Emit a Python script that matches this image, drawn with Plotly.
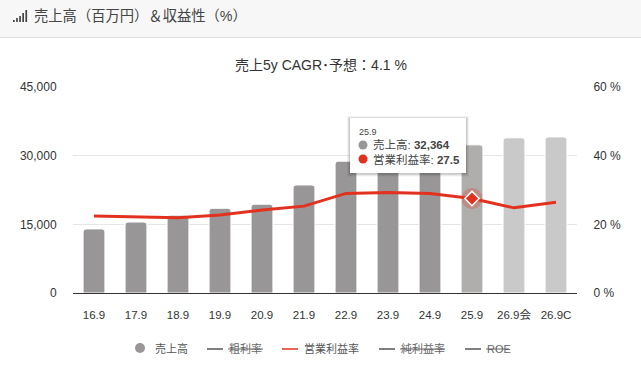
import plotly.graph_objects as go

categories = ["16.9","17.9","18.9","19.9","20.9","21.9","22.9","23.9","24.9","25.9","26.9会","26.9C"]
sales = [14000,15500,17000,18500,19400,23600,28800,30300,31300,32364,33900,34100]
op_margin = [22.4,22.2,21.9,22.7,24.2,25.3,29.0,29.3,29.0,27.5,24.8,26.4]
bar_colors = ["#989696"]*9 + ["#b0aeac","#c9c9c9","#c9c9c9"]
highlight = 9
left_ticks = [0,15000,30000,45000]
right_ticks = [0,20,40,60]
right_labels = ["0 %","20 %","40 %","60 %"]
legend_items = ["売上高","粗利率","営業利益率","純利益率","ROE"]
header = "売上高（百万円）＆収益性（%）"
subtitle = "売上5y CAGR･予想：4.1 %"

FONT = "Liberation Sans, Helvetica, Arial, 'Noto Sans CJK JP', sans-serif"
L, R, T, B = 73, 577, 87, 293
px = lambda x: (x - L) / (R - L)
py = lambda y: (B - y) / (B - T)
RED = "#e2321f"
TXT = "#333333"

fig = go.Figure()
fig.add_trace(go.Bar(x=categories, y=sales, marker=dict(color=bar_colors, line=dict(color="white", width=1), cornerradius=3),
                     width=0.52, yaxis="y", showlegend=False, hoverinfo="skip"))
fig.add_trace(go.Scatter(x=[categories[highlight]], y=[op_margin[highlight]], yaxis="y2", mode="markers",
                         marker=dict(size=21, color="rgba(226,50,31,0.27)"), showlegend=False, hoverinfo="skip"))
fig.add_trace(go.Scatter(x=categories, y=op_margin, yaxis="y2", mode="lines", line=dict(color=RED, width=3),
                         showlegend=False, hoverinfo="skip"))
fig.add_trace(go.Scatter(x=[categories[highlight]], y=[op_margin[highlight]], yaxis="y2", mode="markers",
                         marker=dict(size=11, symbol="diamond", color=RED, line=dict(color="white", width=1.5)),
                         showlegend=False, hoverinfo="skip"))

shapes, ann = [], []
def rect(x0, y0, x1, y1, fill, layer="above"):
    shapes.append(dict(type="rect", xref="paper", yref="paper", x0=px(x0), x1=px(x1), y0=py(y0), y1=py(y1),
                       fillcolor=fill, line=dict(width=0), layer=layer))
def hline(x0, x1, y, color, w=1):
    shapes.append(dict(type="line", xref="paper", yref="paper", x0=px(x0), x1=px(x1), y0=py(y), y1=py(y),
                       line=dict(color=color, width=w)))
def dot(x, y, r, color):
    shapes.append(dict(type="circle", xref="paper", yref="paper", x0=px(x-r), x1=px(x+r), y0=py(y+r), y1=py(y-r),
                       fillcolor=color, line=dict(width=0)))
def text(x, y, s, size=11, color=TXT, anchor="left"):
    ann.append(dict(xref="paper", yref="paper", x=px(x), y=py(y), text=s, showarrow=False, xanchor=anchor, yanchor="middle",
                    font=dict(size=size, color=color, family=FONT), align=anchor, borderpad=0))

# header
rect(0, 0, 641, 37, "#f7f7f7", "below")
hline(0, 641, 37.5, "#dddddd", 1)
for i, h in enumerate([2, 4, 6, 9, 12]):
    rect(13 + i*3.1, 22 - h, 14.7 + i*3.1, 22, "#444444")
text(33, 16, header, 14.3, "#444444")
text(320.5, 65, subtitle, 14, "#333333", "center")

# legend
dot(140, 348, 5, "#989696")
text(154, 348.5, legend_items[0], 11, "#555555")
hline(207, 223, 349, "#555555", 1.5)
text(228, 348.5, legend_items[1], 11, "#666666")
hline(228, 263, 349, "#666666", 1)
hline(282, 298, 349, RED, 1.5)
text(303, 348.5, legend_items[2], 11, "#555555")
hline(379, 395, 349, "#555555", 1.5)
text(400, 348.5, legend_items[3], 11, "#666666")
hline(400, 445, 349, "#666666", 1)
hline(465, 481, 349, "#555555", 1.5)
text(486, 348.5, legend_items[4], 11, "#666666")
hline(486, 509, 349, "#666666", 1)

# tooltip
for grow, alpha in [(3, .05), (2, .07), (1, .10)]:
    shapes.append(dict(type="rect", xref="paper", yref="paper", x0=px(350-grow), x1=px(466+grow),
                       y0=py(173.5+grow), y1=py(118-grow+1), fillcolor=f"rgba(0,0,0,{alpha})", line=dict(width=0)))
rect(350, 118, 466, 173, "white")
text(358, 132, categories[highlight], 9, "#444444")
dot(363, 145, 4.5, "#989696")
text(372, 145, f"売上高: <b>{sales[highlight]:,}</b>", 11.5, "#444444")
dot(363, 159, 4.5, RED)
text(372, 159, f"営業利益率: <b>{op_margin[highlight]}</b>", 11.5, "#444444")

fig.update_layout(
    width=641, height=384, margin=dict(l=L, r=641-R, t=T, b=384-B),
    paper_bgcolor="white", plot_bgcolor="white", bargap=0.5, autosize=False,
    font=dict(family=FONT, size=11, color=TXT), shapes=shapes, annotations=ann, hovermode=False,
    xaxis=dict(type="category", categoryorder="array", categoryarray=categories, tickfont=dict(size=11.5),
               showline=True, linecolor="#333333", linewidth=1, ticks="outside", ticklen=11, tickcolor="rgba(0,0,0,0)",
               range=[-0.5, 11.5], fixedrange=True),
    yaxis=dict(range=[0, 45000], tickvals=left_ticks, tickformat=",", gridcolor="#e6e6e6", gridwidth=1,
               tickfont=dict(size=12), zeroline=False, ticks="outside", ticklen=13, tickcolor="rgba(0,0,0,0)", fixedrange=True),
    yaxis2=dict(range=[0, 60], tickmode="array", tickvals=right_ticks, ticktext=right_labels, overlaying="y", side="right", showgrid=False,
                tickfont=dict(size=12), zeroline=False, ticks="outside", ticklen=13, tickcolor="rgba(0,0,0,0)", fixedrange=True),
)
fig.write_html("out.html", config=dict(displayModeBar=False),
               post_script="document.body.style.margin='0';document.body.style.overflow='hidden';")
